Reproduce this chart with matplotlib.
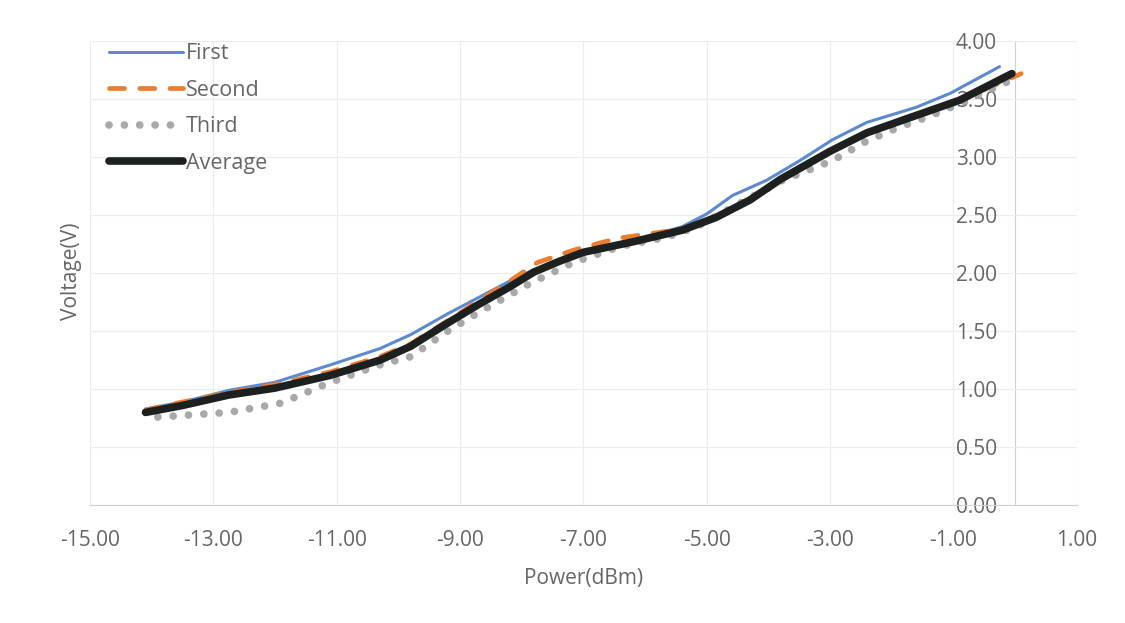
import matplotlib.pyplot as plt

power_first = [-14.1, -13.5, -12.75, -12, -11.1, -10.3, -9.8, -9.2, -8.7, -8.2, -7.8, -7.0,
               -6.2, -5.4, -5.0, -4.58, -4.03, -3.49, -2.96, -2.4, -1.6, -1.05, -0.25]
first = [0.83, 0.89, 0.99, 1.06, 1.21, 1.35, 1.47, 1.65, 1.79, 1.93, 2.03, 2.17,
         2.28, 2.40, 2.51, 2.67, 2.80, 2.97, 3.15, 3.30, 3.43, 3.55, 3.78]

power_second = [-14.1, -13.5, -12.75, -12, -11.1, -10.3, -9.8, -9.2, -8.7, -8.2, -7.75, -7.15,
                -6.45, -5.4, -4.85, -4.3, -3.8, -3.0, -2.4, -1.6, -0.9, 0.1]
second = [0.82, 0.89, 0.97, 1.04, 1.15, 1.28, 1.39, 1.59, 1.76, 1.93, 2.09, 2.20,
          2.30, 2.38, 2.49, 2.64, 2.81, 3.06, 3.22, 3.37, 3.49, 3.72]

power_third = [-13.9, -12.75, -11.9, -11.1, -10.3, -9.8, -9.2, -8.7, -7.87, -7.17, -6.41,
               -5.65, -5.16, -4.47, -3.77, -2.96, -2.4, -1.87, -1.4, -0.9, 0.05]
third = [0.76, 0.80, 0.88, 1.06, 1.21, 1.28, 1.50, 1.66, 1.91, 2.09, 2.23,
         2.31, 2.40, 2.60, 2.80, 2.97, 3.14, 3.26, 3.35, 3.46, 3.69]

power_avg = [-14.1, -13.5, -12.75, -12, -11.1, -10.3, -9.8, -9.2, -8.7, -8.2, -7.8, -7.4, -7.0,
             -6.2, -5.4, -4.85, -4.3, -3.8, -3.0, -2.4, -1.6, -0.9, -0.05]
average = [0.80, 0.86, 0.95, 1.01, 1.12, 1.25, 1.37, 1.57, 1.73, 1.88, 2.01, 2.10, 2.18,
           2.27, 2.37, 2.48, 2.63, 2.81, 3.05, 3.21, 3.36, 3.49, 3.72]

xticks = [-15, -13, -11, -9, -7, -5, -3, -1, 1]
yticks = [0, 0.5, 1, 1.5, 2, 2.5, 3, 3.5, 4]

plt.rcParams['font.family'] = ['Open Sans', 'DejaVu Sans']
txt = '#666666'

fig = plt.figure(figsize=(11.25, 6.23), dpi=100)
ax = fig.add_axes([0.08, 0.189, 0.877, 0.745])

ax.plot(power_first, first, color='#5b8ad0', lw=2.2, label='First',
        solid_capstyle='round', solid_joinstyle='round')
ax.plot(power_second, second, color='#ed7d31', lw=3.4, dashes=(3.2, 3.2), label='Second',
        dash_capstyle='round')
ax.plot(power_third, third, color='#a8a8a8', lw=5.5, linestyle=(0, (0.01, 2.0)), label='Third',
        dash_capstyle='round')
ax.plot(power_avg, average, color='#1c211f', lw=5.5, label='Average',
        solid_capstyle='round', solid_joinstyle='round')

ax.set_xlim(-15, 1)
ax.set_ylim(0, 4)
ax.set_xticks(xticks)
ax.set_yticks(yticks)
ax.set_xticklabels(['%.2f' % v for v in xticks])
ax.set_yticklabels(['%.2f' % v for v in yticks])

for s in ['top', 'right']:
    ax.spines[s].set_visible(False)
ax.spines['left'].set_position(('data', 0))
ax.spines['left'].set_color('#d0d0d0')
ax.spines['bottom'].set_color('#d0d0d0')
ax.spines['left'].set_zorder(0)
ax.tick_params(length=0, labelsize=15, colors=txt)
ax.tick_params(axis='y', pad=13)
ax.tick_params(axis='x', pad=18)
ax.grid(True, color='#ececec', lw=0.8)
ax.set_axisbelow(True)

ax.set_xlabel('Power(dBm)', fontsize=15, color=txt, labelpad=12)
fig.text(0.064, 0.565, 'Voltage(V)', rotation=90, fontsize=15, color=txt,
         ha='center', va='center')

leg = ax.legend(loc='upper left', bbox_to_anchor=(0.0, 1.037), frameon=False, fontsize=15.5,
                handlelength=3.4, handletextpad=0.15, labelspacing=0.72, labelcolor=txt)

fig.savefig('out.png', dpi=100)
